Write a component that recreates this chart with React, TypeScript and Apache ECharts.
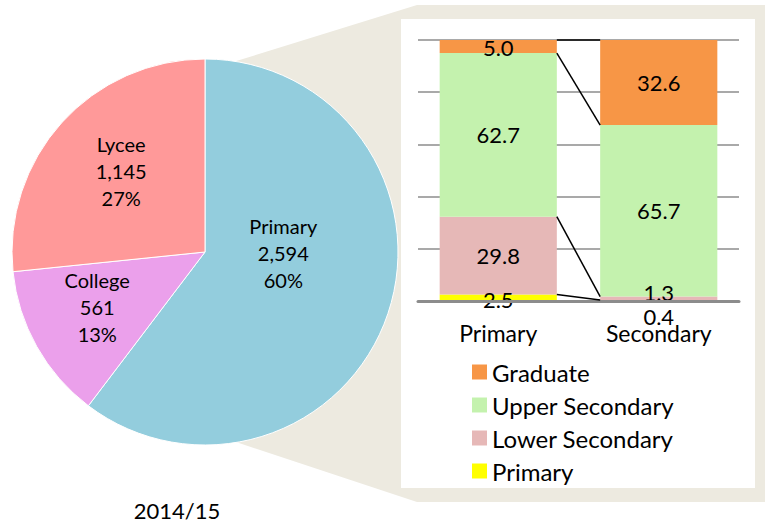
import React, { useEffect, useRef } from "react";
import * as echarts from "echarts";

// ---- Data ----
const pieNames = ["Primary", "College", "Lycee"];
const pieValues = [2594, 561, 1145];
const pieColors = ["#93CDDD", "#EBA0EB", "#FF9999"];
const yearLabel = "2014/15";

const categories = ["Primary", "Secondary"];
const levelPrimary = [2.5, 0.4];
const levelLower = [29.8, 1.3];
const levelUpper = [62.7, 65.7];
const levelGraduate = [5.0, 32.6];
const levelNames = ["Primary", "Lower Secondary", "Upper Secondary", "Graduate"];
const levelColors = ["#FFFF00", "#E6B8B7", "#C4F2AE", "#F79646"];
const legendOrder = ["Graduate", "Upper Secondary", "Lower Secondary", "Primary"];

const FONT = "Lato";
const BAR_RATIO = 0.73;

export default function App() {
  const ref = useRef<HTMLDivElement>(null);

  useEffect(() => {
    if (!ref.current) return;
    const chart = echarts.init(ref.current, null, { renderer: "svg" });

    const levels = [levelPrimary, levelLower, levelUpper, levelGraduate];
    // cumulative boundaries per category
    const cum = (ci: number) => {
      let s = 0;
      return levels.map((l) => {
        s += l[ci];
        return +s.toFixed(2);
      });
    };
    const cumP = cum(0);
    const cumS = cum(1);
    const linkData = cumP.map((v, i) => [0, v, cumS[i]]);

    // per-item label offsets for crowded labels
    const labelOffsets: Record<string, number[][]> = {
      Primary: [[0, 2], [0, 16]],
      "Lower Secondary": [[0, 0], [0, -6]],
      "Upper Secondary": [[0, 0], [0, 0]],
      Graduate: [[0, 1], [0, 0]],
    };

    const barSeries = levels.map((vals, li) => ({
      name: levelNames[li],
      type: "bar",
      stack: "total",
      barWidth: BAR_RATIO * 100 + "%",
      itemStyle: { color: levelColors[li] },
      data: vals.map((v, ci) => ({
        value: v,
        label: { offset: labelOffsets[levelNames[li]][ci] },
      })),
      label: {
        show: true,
        position: "inside",
        color: "#000",
        fontSize: 22,
        fontFamily: FONT,
        formatter: (p: any) => Number(p.value).toFixed(1),
      },
      emphasis: { disabled: true },
      z: 2,
    }));

    const pieOffsets = [
      [-16, -31],
      [-21, 6],
      [-10, -14],
    ];

    const option: any = {
      animation: false,
      backgroundColor: "#fff",
      graphic: [
        {
          type: "polygon",
          z: -10,
          shape: {
            points: [
              [233, 62],
              [417, 5],
              [765, 5],
              [765, 502],
              [417, 502],
              [233, 441],
            ],
          },
          style: { fill: "#EDEAE0" },
          silent: true,
        },
        {
          type: "rect",
          z: -9,
          shape: { x: 401, y: 19, width: 354, height: 469 },
          style: { fill: "#fff" },
          silent: true,
        },
        {
          type: "text",
          x: 177,
          y: 510,
          style: {
            text: yearLabel,
            fontSize: 22,
            fontFamily: FONT,
            fill: "#000",
            align: "center",
            verticalAlign: "middle",
          },
        },
      ],
      legend: {
        orient: "vertical",
        left: 467,
        top: 355,
        itemWidth: 15,
        itemHeight: 15,
        itemGap: 9,
        icon: "rect",
        data: legendOrder,
        selectedMode: false,
        textStyle: { fontSize: 24, fontFamily: FONT, color: "#000" },
      },
      grid: { left: 418, right: 26, top: 40, bottom: 227 },
      xAxis: {
        type: "category",
        data: categories,
        axisTick: { show: false },
        axisLine: { lineStyle: { color: "#8C8C8C", width: 3 } },
        axisLabel: { fontSize: 23, fontFamily: FONT, color: "#000", margin: 20 },
        z: 3,
      },
      yAxis: {
        type: "value",
        min: 0,
        max: 100,
        interval: 20,
        axisLabel: { show: false },
        axisLine: { show: false },
        axisTick: { show: false },
        splitLine: { lineStyle: { color: "#8C8C8C", width: 1.5 } },
      },
      series: [
        ...barSeries,
        {
          type: "custom",
          name: "links",
          data: linkData,
          encode: { x: 0, y: [1, 2] },
          silent: true,
          z: 5,
          renderItem: (params: any, api: any) => {
            const a = api.coord([0, api.value(1)]);
            const b = api.coord([1, api.value(2)]);
            const half = (api.size([1, 0])[0] * BAR_RATIO) / 2;
            return {
              type: "line",
              shape: { x1: a[0] + half, y1: a[1], x2: b[0] - half, y2: b[1] },
              style: { stroke: "#000", lineWidth: 1.5 },
            };
          },
        },
        {
          type: "pie",
          name: "Teachers",
          center: [205, 252],
          radius: 193,
          startAngle: 90,
          clockwise: true,
          emphasis: { disabled: true },
          itemStyle: { borderColor: "#fff", borderWidth: 1 },
          data: pieNames.map((n, i) => ({
            name: n,
            value: pieValues[i],
            itemStyle: { color: pieColors[i] },
            label: { offset: pieOffsets[i] },
          })),
          label: {
            show: true,
            position: "inside",
            color: "#000",
            fontSize: 20,
            lineHeight: 27,
            fontFamily: FONT,
            align: "center",
            formatter: (p: any) =>
              `${p.name}\n${Number(p.value).toLocaleString("en-US")}\n${Math.round(p.percent)}%`,
          },
          labelLine: { show: false },
          z: 4,
        },
      ],
    };

    chart.setOption(option);
    return () => chart.dispose();
  }, []);

  return (
    <div
      ref={ref}
      style={{ position: "absolute", left: 0, top: 0, width: 765, height: 528 }}
    />
  );
}
